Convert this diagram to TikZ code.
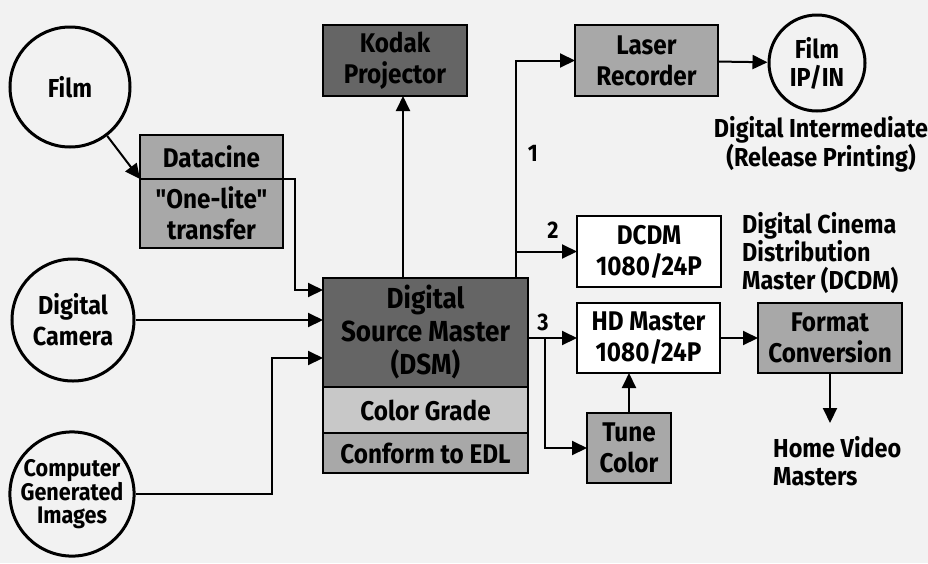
\documentclass[tikz,border=0pt]{standalone}
\usepackage{fontspec}
\setmainfont{Fira Sans}[FakeStretch=0.9,Ligatures=TeXOff]
\usetikzlibrary{arrows.meta,positioning,calc}
\definecolor{paper}{HTML}{F2F2F2}
\definecolor{darkfill}{HTML}{656565}
\definecolor{midfill}{HTML}{A8A8A8}
\definecolor{lightfill}{HTML}{C8C8C8}

\begin{document}
\begin{tikzpicture}[x=1pt,y=-1pt,>={Triangle[length=15pt,width=14pt]},
  box/.style={draw,line width=2pt,outer sep=0pt,align=center,inner sep=0pt,font=\bfseries\fontsize{27}{31}\selectfont},
  src/.style={draw,circle,line width=3pt,align=center,inner sep=0pt,font=\bfseries\fontsize{26}{31}\selectfont},
  note/.style={align=left,inner sep=0pt,font=\bfseries\fontsize{26}{28}\selectfont},
  num/.style={inner sep=0pt,font=\bfseries\fontsize{24}{24}\selectfont},
  link/.style={line width=2pt}]
\fill[paper] (0,0) rectangle (928,563);
\useasboundingbox (0,0) rectangle (928,563);
% sources
\node[src,minimum size=120pt] (film) at (70,87) {Film};
\node[src,minimum size=122pt] (camera) at (73,320) {Digital\\Camera};
\node[src,minimum size=124pt,font=\bfseries\fontsize{24}{23}\selectfont] (cgi) at (72,494) {Computer\\Generated\\Images};
\node[box,fill=midfill,minimum width=143pt,minimum height=44pt] (datacine) at (211.5,157) {Datacine};
\node[box,fill=midfill,minimum width=143pt,minimum height=69pt,below=0pt of datacine] (onelite) {"One-lite"\\transfer};
% master
\node[box,fill=darkfill,minimum width=205pt,minimum height=109pt,font=\bfseries\fontsize{29}{33}\selectfont] (dsm) at (425.5,332.5) {Digital\\Source Master\\(DSM)};
\node[box,fill=lightfill,minimum width=205pt,minimum height=46pt,below=0pt of dsm] (grade) {Color Grade};
\node[box,fill=midfill,minimum width=205pt,minimum height=40pt,below=0pt of grade] (conform) {Conform to EDL};
% outputs
\node[box,fill=darkfill,minimum width=144pt,minimum height=71pt] (kodak) at (395,60.5) {Kodak\\Projector};
\node[box,fill=midfill,minimum width=143pt,minimum height=71pt] (laser) at (646.5,60.5) {Laser\\Recorder};
\node[src,minimum size=96pt,font=\bfseries\fontsize{26}{28}\selectfont] (filmout) at (817,63) {Film\\IP/IN};
\node[box,fill=white,minimum width=144pt,minimum height=71pt] (dcdm) at (649,251.5) {DCDM\\1080/24P};
\node[box,fill=white,minimum width=143pt,minimum height=70pt] (hd) at (648.5,338) {HD Master\\1080/24P};
\node[box,fill=midfill,minimum width=84pt,minimum height=70pt] (tune) at (629,448) {Tune\\Color};
\node[box,fill=midfill,minimum width=144pt,minimum height=70pt] (format) at (830,338) {Format\\Conversion};
% notes
\node[note,align=center] (di) at (821,144) {Digital Intermediate\\(Release Printing)};
\node[note,anchor=north west] (dcnote) at (742,212) {Digital Cinema\\Distribution\\Master (DCDM)};
\node[note,anchor=north west] (home) at (773,436) {Home Video\\Masters};
\node[num] (one) at (533,153) {1};
\node[num] (two) at (553,230) {2};
\node[num] (three) at (543,322) {3};
% links
\coordinate (tap) at ([xshift=-12pt]dsm.north east);
\coordinate (kup) at ([xshift=8pt]kodak.south);
\coordinate (split) at (545,338);
\draw[link,->] (film) -- (datacine.south west);
\draw[link,->] (onelite.north east) -- ++(12,0) |- ([yshift=-12pt]dsm.north west);
\draw[link,->] (camera) -- (camera -| dsm.west);
\draw[link,->] (cgi.east) -- ++(136,0) |- ([yshift=-80pt]dsm.north west);
\draw[link,->] (kup |- dsm.north) -- (kup);
\draw[link,->] (tap) |- (laser.west);
\draw[link,->] (tap |- dcdm.west) -- (dcdm.west);
\draw[link,->] (laser) -- (filmout);
\draw[link,->] (dsm.east |- hd.west) -- (hd.west);
\draw[link,->] (split) |- (tune.west);
\draw[link,->] (tune.north) -- (tune.north |- hd.south);
\draw[link,->] (hd) -- (format);
\draw[link,->,shorten >=13pt] (format.south) -- (format.south |- home.north);
\end{tikzpicture}
\end{document}
